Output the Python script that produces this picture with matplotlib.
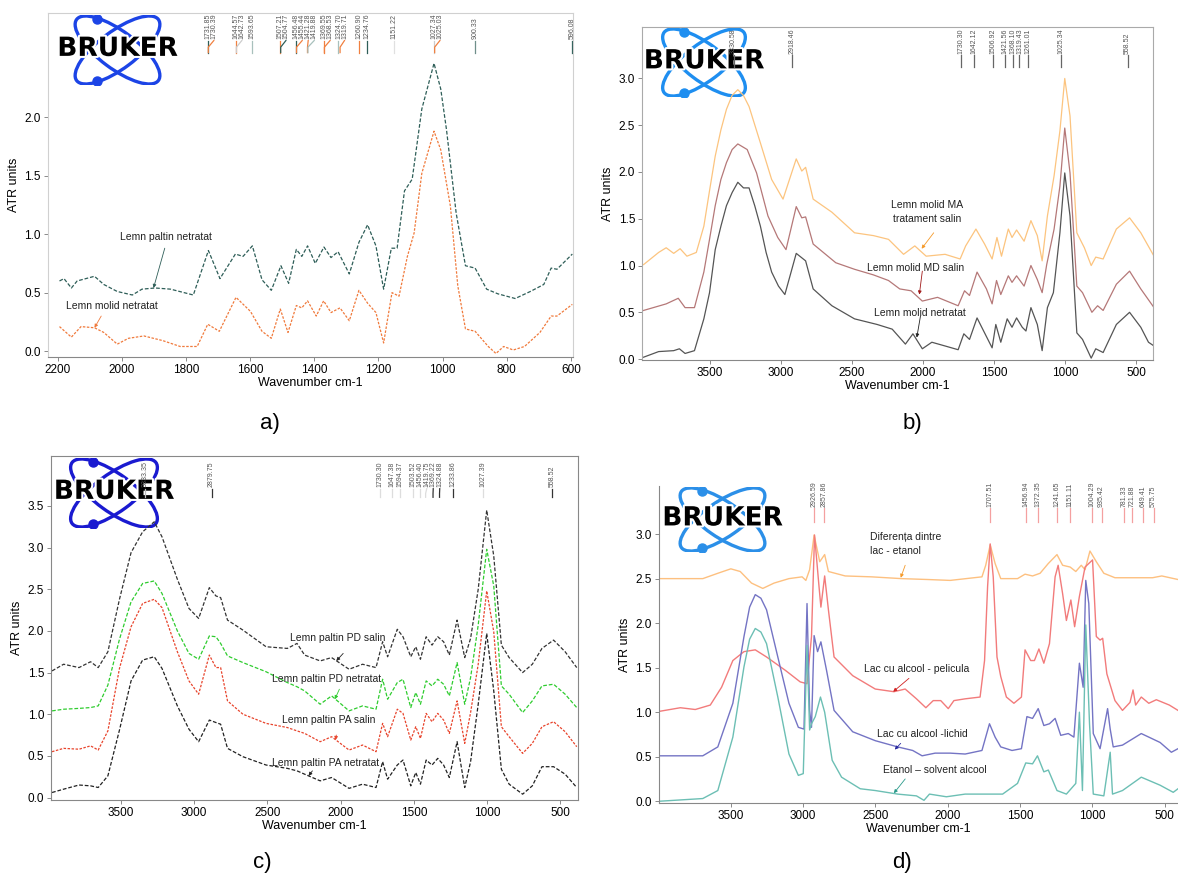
import numpy as np
import matplotlib.pyplot as plt
import matplotlib.patheffects as pe
from matplotlib.patches import Ellipse

plt.rcParams['font.family'] = ['Liberation Sans', 'DejaVu Sans']

# ---------------- a) ----------------
A_WN_PALTIN = [2194, 2180, 2157, 2139, 2085, 2056, 2014, 1967, 1937, 1896, 1848, 1777, 1730,
               1694, 1646, 1622, 1593, 1563, 1534, 1504, 1480, 1456, 1439, 1421, 1397, 1370,
               1348, 1326, 1291, 1261, 1234, 1208, 1184, 1160, 1142, 1119, 1095, 1065, 1027,
               1006, 988, 958, 929, 899, 863, 828, 774, 727, 685, 662, 644, 596]
A_PALTIN = [0.60, 0.62, 0.54, 0.60, 0.64, 0.57, 0.51, 0.48, 0.53, 0.54, 0.53, 0.48, 0.86,
            0.62, 0.83, 0.81, 0.90, 0.61, 0.52, 0.73, 0.58, 0.87, 0.81, 0.90, 0.75, 0.89,
            0.80, 0.85, 0.66, 0.93, 1.08, 0.90, 0.53, 0.88, 0.88, 1.37, 1.47, 2.07, 2.46,
            2.24, 1.89, 1.18, 0.73, 0.71, 0.53, 0.49, 0.45, 0.51, 0.57, 0.71, 0.70, 0.83]
A_WN_MOLID = [2194, 2157, 2127, 2085, 2056, 2014, 1979, 1931, 1872, 1818, 1765, 1732, 1696,
              1644, 1599, 1563, 1534, 1506, 1482, 1456, 1439, 1421, 1394, 1371, 1348, 1320,
              1291, 1261, 1234, 1208, 1184, 1158, 1136, 1110, 1089, 1065, 1027, 1006, 976,
              953, 929, 899, 858, 834, 810, 780, 745, 697, 662, 644, 596]
A_MOLID = [0.21, 0.12, 0.21, 0.20, 0.16, 0.06, 0.11, 0.13, 0.09, 0.04, 0.04, 0.23, 0.17,
           0.46, 0.34, 0.17, 0.11, 0.36, 0.16, 0.39, 0.37, 0.43, 0.30, 0.43, 0.33, 0.37,
           0.26, 0.52, 0.41, 0.33, 0.07, 0.50, 0.47, 0.81, 1.01, 1.52, 1.88, 1.72, 1.24,
           0.56, 0.19, 0.17, 0.04, -0.02, 0.04, 0.01, 0.04, 0.16, 0.30, 0.30, 0.40]
A_PEAKS = ['1731.85', '1730.39', '1644.57', '1642.73', '1593.65', '1507.21', '1504.77',
           '1456.48', '1455.44', '1421.28', '1419.88', '1369.55', '1368.53', '1324.70',
           '1319.71', '1260.90', '1234.76', '1151.22', '1027.34', '1025.03', '900.33', '596.08']
A_PEAK_COLORS = ['#2e5e58', '#f08040', '#f08040', '#cccccc', '#a8c0bc', '#f08040', '#2e5e58',
                 '#2e5e58', '#f08040', '#f08040', '#a8c0bc', '#f08040', '#f08040', '#a8c0bc',
                 '#f08040', '#f08040', '#2e5e58', '#e0e0e0', '#cccccc', '#f08040', '#6f8f8a',
                 '#2e5e58']

# ---------------- b) ----------------
B_WN_NETRATAT = [3964, 3858, 3752, 3712, 3672, 3606, 3540, 3500, 3460, 3420, 3381, 3341, 3301,
                 3261, 3222, 3182, 3142, 3102, 3063, 3015, 2970, 2890, 2824, 2771, 2639, 2480,
                 2321, 2215, 2122, 2069, 2003, 1936, 1843, 1751, 1711, 1671, 1618, 1565, 1512,
                 1486, 1451, 1406, 1372, 1340, 1300, 1274, 1239, 1194, 1160, 1123, 1081, 1035,
                 1001, 964, 916, 876, 815, 783, 731, 638, 545, 466, 412, 373]
B_NETRATAT = [0.02, 0.08, 0.09, 0.11, 0.06, 0.09, 0.43, 0.71, 1.17, 1.42, 1.64, 1.78, 1.89,
              1.83, 1.83, 1.64, 1.42, 1.14, 0.93, 0.78, 0.69, 1.13, 1.05, 0.75, 0.57, 0.43,
              0.37, 0.32, 0.16, 0.27, 0.11, 0.18, 0.14, 0.10, 0.27, 0.21, 0.44, 0.28, 0.12,
              0.37, 0.18, 0.43, 0.34, 0.44, 0.34, 0.30, 0.55, 0.37, 0.09, 0.55, 0.71, 1.35,
              1.99, 1.53, 0.28, 0.21, 0.01, 0.11, 0.07, 0.37, 0.50, 0.34, 0.18, 0.14]
B_WN_MD = [3964, 3805, 3720, 3672, 3606, 3540, 3500, 3460, 3420, 3381, 3341, 3301, 3235, 3169,
           3089, 3020, 2962, 2890, 2851, 2824, 2771, 2612, 2480, 2347, 2241, 2162, 2082, 2003,
           1896, 1751, 1706, 1671, 1618, 1552, 1512, 1481, 1451, 1398, 1372, 1340, 1287, 1239,
           1194, 1160, 1128, 1076, 1035, 1001, 964, 916, 876, 810, 770, 731, 638, 545, 466, 373]
B_MD = [0.52, 0.59, 0.65, 0.55, 0.55, 0.93, 1.28, 1.64, 1.92, 2.10, 2.24, 2.30, 2.24, 1.99,
        1.53, 1.30, 1.17, 1.63, 1.51, 1.52, 1.23, 1.03, 0.96, 0.90, 0.84, 0.75, 0.73, 0.62,
        0.66, 0.57, 0.73, 0.68, 0.93, 0.75, 0.59, 0.84, 0.69, 0.89, 0.82, 0.89, 0.78, 1.00,
        0.85, 0.71, 1.01, 1.39, 1.85, 2.47, 1.99, 0.78, 0.71, 0.50, 0.57, 0.52, 0.80, 0.94,
        0.75, 0.55]
B_WN_MA = [3964, 3858, 3805, 3752, 3707, 3659, 3593, 3540, 3500, 3460, 3420, 3381, 3341, 3301,
           3262, 3222, 3142, 3063, 2983, 2890, 2851, 2824, 2771, 2639, 2480, 2347, 2241, 2135,
           2056, 1976, 1843, 1737, 1698, 1626, 1565, 1512, 1478, 1446, 1398, 1372, 1340, 1287,
           1239, 1194, 1160, 1123, 1076, 1035, 1001, 964, 916, 863, 815, 783, 731, 638, 545,
           466, 373]
B_MA = [1.01, 1.14, 1.19, 1.13, 1.18, 1.10, 1.14, 1.42, 1.80, 2.17, 2.45, 2.67, 2.82, 2.88,
        2.82, 2.70, 2.31, 1.92, 1.71, 2.14, 2.01, 2.05, 1.71, 1.57, 1.35, 1.32, 1.28, 1.12,
        1.21, 1.10, 1.12, 1.07, 1.21, 1.39, 1.23, 1.07, 1.30, 1.10, 1.39, 1.30, 1.38, 1.26,
        1.48, 1.32, 1.05, 1.53, 1.96, 2.44, 3.00, 2.60, 1.35, 1.19, 1.00, 1.09, 1.07, 1.39,
        1.51, 1.35, 1.10]
B_PEAKS = ['3330.58', '2918.46', '1730.30', '1642.12', '1506.92', '1421.56', '1368.10',
           '1319.43', '1261.01', '1025.34', '558.52']

# ---------------- c) ----------------
C_WN = [3968, 3889, 3784, 3705, 3653, 3587, 3508, 3429, 3350, 3271, 3218, 3113, 3034, 2968,
        2895, 2850, 2818, 2771, 2666, 2508, 2363, 2297, 2245, 2139, 2061, 1942, 1850, 1758,
        1713, 1679, 1613, 1574, 1521, 1487, 1455, 1416, 1376, 1337, 1297, 1258, 1205, 1153,
        1113, 1061, 1003, 955, 903, 850, 758, 692, 626, 547, 468, 389]
C_PD_SALIN = [1.52, 1.60, 1.56, 1.63, 1.56, 1.75, 2.38, 2.94, 3.19, 3.31, 3.13, 2.62, 2.27,
              2.15, 2.52, 2.42, 2.40, 2.13, 2.01, 1.81, 1.79, 1.85, 1.71, 1.64, 1.68, 1.54,
              1.60, 1.56, 1.87, 1.69, 2.02, 1.93, 1.69, 1.81, 1.66, 1.93, 1.83, 1.93, 1.87,
              1.71, 2.13, 1.68, 1.91, 2.50, 3.45, 2.90, 1.83, 1.68, 1.50, 1.60, 1.79, 1.89,
              1.75, 1.56]
C_PD_NETRATAT = [1.04, 1.06, 1.07, 1.08, 1.10, 1.35, 1.90, 2.35, 2.57, 2.60, 2.45, 2.00, 1.73,
                 1.66, 1.94, 1.93, 1.85, 1.70, 1.62, 1.51, 1.38, 1.33, 1.28, 1.12, 1.22, 1.04,
                 1.10, 1.06, 1.42, 1.18, 1.38, 1.42, 1.08, 1.26, 1.12, 1.40, 1.34, 1.42, 1.36,
                 1.22, 1.62, 1.12, 1.44, 2.07, 2.98, 2.54, 1.34, 1.24, 1.02, 1.16, 1.34, 1.36,
                 1.24, 1.08]
C_PA_SALIN = [0.55, 0.59, 0.58, 0.62, 0.57, 0.80, 1.55, 2.05, 2.33, 2.38, 2.28, 1.75, 1.40,
              1.24, 1.71, 1.56, 1.56, 1.16, 1.00, 0.89, 0.84, 0.80, 0.77, 0.67, 0.73, 0.57,
              0.63, 0.55, 0.89, 0.73, 1.06, 1.01, 0.69, 0.85, 0.71, 1.01, 0.91, 1.01, 0.93,
              0.77, 1.16, 0.65, 1.02, 1.60, 2.48, 1.99, 0.85, 0.73, 0.53, 0.65, 0.85, 0.91,
              0.79, 0.61]
C_PA_NETRATAT = [0.06, 0.10, 0.15, 0.14, 0.12, 0.26, 0.81, 1.40, 1.65, 1.69, 1.55, 1.10, 0.82,
                 0.67, 0.93, 0.90, 0.88, 0.59, 0.49, 0.39, 0.35, 0.32, 0.28, 0.20, 0.24, 0.11,
                 0.16, 0.12, 0.43, 0.22, 0.39, 0.45, 0.14, 0.30, 0.16, 0.45, 0.39, 0.47, 0.39,
                 0.24, 0.67, 0.12, 0.43, 1.12, 1.97, 1.28, 0.34, 0.16, 0.04, 0.14, 0.37, 0.37,
                 0.28, 0.12]
C_PEAKS = ['3333.35', '2879.75', '1730.30', '1647.38', '1594.37', '1503.52', '1456.40',
           '1419.75', '1369.22', '1324.88', '1233.86', '1027.39', '558.52']
C_PEAK_COLORS = ['#bbbbbb', '#333333', '#dddddd', '#dddddd', '#dddddd', '#dddddd', '#dddddd',
                 '#dddddd', '#333333', '#333333', '#333333', '#dddddd', '#333333']

# ---------------- d) ----------------
D_WN_DIF = [3992, 3694, 3590, 3500, 3435, 3357, 3279, 3201, 3098, 3007, 2981, 2955, 2924, 2885,
            2851, 2825, 2709, 2527, 2320, 2138, 1983, 1763, 1737, 1706, 1672, 1633, 1517, 1465,
            1413, 1361, 1304, 1244, 1205, 1153, 1114, 1076, 1050, 1016, 972, 920, 843, 739, 583,
            519, 407]
D_DIF = [2.50, 2.50, 2.56, 2.61, 2.58, 2.45, 2.39, 2.45, 2.50, 2.52, 2.48, 2.60, 2.99, 2.69,
         2.77, 2.58, 2.53, 2.52, 2.50, 2.49, 2.48, 2.52, 2.65, 2.88, 2.67, 2.50, 2.50, 2.55,
         2.53, 2.56, 2.67, 2.77, 2.65, 2.63, 2.58, 2.65, 2.60, 2.81, 2.69, 2.56, 2.51, 2.51,
         2.51, 2.53, 2.49]
D_WN_PELICULA = [3992, 3849, 3746, 3642, 3564, 3486, 3409, 3331, 3253, 3123, 3020, 2973, 2942,
                 2921, 2890, 2877, 2851, 2825, 2786, 2657, 2501, 2372, 2294, 2216, 2151, 2100,
                 2048, 1996, 1957, 1879, 1776, 1745, 1724, 1706, 1685, 1659, 1633, 1594, 1542,
                 1490, 1465, 1426, 1400, 1369, 1335, 1296, 1257, 1236, 1205, 1179, 1148, 1122,
                 1089, 1050, 998, 972, 946, 928, 899, 843, 791, 739, 718, 700, 661, 609, 557,
                 467, 407]
D_PELICULA = [1.01, 1.05, 1.03, 1.08, 1.28, 1.58, 1.68, 1.70, 1.62, 1.47, 1.34, 1.32, 1.85,
              2.99, 2.41, 2.18, 2.53, 2.15, 1.62, 1.41, 1.26, 1.23, 1.26, 1.15, 1.05, 1.13,
              1.13, 1.04, 1.13, 1.15, 1.17, 1.58, 2.41, 2.89, 2.52, 1.62, 1.40, 1.17, 1.10,
              1.17, 1.70, 1.58, 1.58, 1.71, 1.55, 1.77, 2.52, 2.65, 2.33, 2.03, 2.26, 1.96,
              2.30, 2.63, 2.71, 1.85, 1.81, 1.83, 1.43, 1.13, 1.02, 1.11, 1.25, 1.08, 1.17,
              1.10, 1.14, 1.08, 1.02]
D_WN_LICHID = [3992, 3694, 3590, 3486, 3409, 3370, 3331, 3292, 3253, 3175, 3098, 3033, 2994,
               2973, 2955, 2942, 2924, 2900, 2877, 2838, 2786, 2657, 2501, 2346, 2242, 2177,
               2087, 1983, 1879, 1763, 1711, 1672, 1633, 1555, 1490, 1452, 1413, 1374, 1335,
               1296, 1257, 1218, 1166, 1127, 1089, 1063, 1045, 1024, 993, 946, 894, 876, 855,
               791, 661, 531, 453, 407]
D_LICHID = [0.51, 0.51, 0.61, 1.10, 1.85, 2.18, 2.32, 2.28, 2.15, 1.62, 1.10, 0.83, 0.81, 2.22,
            1.02, 0.83, 1.86, 1.68, 1.79, 1.47, 1.02, 0.78, 0.68, 0.61, 0.57, 0.51, 0.54, 0.54,
            0.53, 0.57, 0.87, 0.72, 0.61, 0.57, 0.59, 0.95, 0.93, 1.04, 0.85, 0.87, 0.93, 0.74,
            0.76, 0.72, 1.55, 1.28, 2.48, 2.22, 0.76, 0.59, 1.04, 0.81, 0.61, 0.63, 0.76, 0.66,
            0.55, 0.59]
D_WN_ETANOL = [3992, 3694, 3590, 3486, 3409, 3370, 3331, 3292, 3253, 3175, 3098, 3033, 2999,
               2973, 2955, 2942, 2916, 2880, 2851, 2799, 2734, 2605, 2501, 2346, 2216, 2164,
               2126, 2009, 1879, 1620, 1517, 1460, 1413, 1379, 1335, 1304, 1244, 1179, 1114,
               1089, 1068, 1045, 1019, 993, 920, 876, 860, 791, 661, 531, 440, 407]
D_ETANOL = [0.00, 0.03, 0.12, 0.72, 1.51, 1.82, 1.94, 1.90, 1.77, 1.17, 0.53, 0.29, 0.31, 1.75,
            0.80, 0.87, 0.95, 1.17, 1.00, 0.46, 0.27, 0.14, 0.12, 0.08, 0.06, 0.01, 0.08, 0.05,
            0.08, 0.08, 0.20, 0.43, 0.42, 0.51, 0.33, 0.35, 0.12, 0.08, 0.20, 1.00, 0.12, 1.98,
            0.87, 0.08, 0.06, 0.55, 0.08, 0.12, 0.27, 0.18, 0.10, 0.14]
D_PEAKS = ['2926.59', '2857.86', '1707.51', '1456.94', '1372.35', '1241.65', '1151.11',
           '1004.29', '935.42', '781.33', '721.88', '649.41', '575.75']

TICK_GRAY = '#777777'


def style_axes(ax, xlim, ylim, yticks, xticks, frame_color, hide=()):
    ax.set_xlim(*xlim)
    ax.set_ylim(*ylim)
    ax.set_yticks(yticks)
    ax.set_yticklabels(['%.1f' % t for t in yticks])
    ax.set_xticks(xticks)
    for side, sp in ax.spines.items():
        sp.set_color(frame_color)
        sp.set_linewidth(0.8)
        if side in hide:
            sp.set_visible(False)
    ax.spines['bottom'].set_color('#888888')
    ax.tick_params(direction='out', length=3, width=0.6, color=TICK_GRAY,
                   labelsize=8.5, pad=2, top=False, right=False)
    ax.set_xlabel('Wavenumber cm-1', fontsize=9, labelpad=1)
    ax.set_ylabel('ATR units', fontsize=9, labelpad=3)
    ax.set_facecolor('none')


def peak_labels(ax, peaks, colors, line_y, text_y, gap=6.5):
    # spread crowded labels apart, keep the tick foot at the real wavenumber
    tr = ax.get_xaxis_transform()
    wn = [float(p) for p in peaks]
    pix = [ax.transData.transform((w, 0))[0] for w in wn]
    order = np.argsort(pix)
    placed = {}
    last = -1e9
    for i in order:
        p = max(pix[i], last + gap)
        placed[i] = p
        last = p
    inv = ax.transData.inverted()
    y0, y1 = line_y
    ym = y0 + 0.45 * (y1 - y0)
    for i, (lab, col) in enumerate(zip(peaks, colors)):
        w = wn[i]
        wl = inv.transform((placed[i], 0))[0]
        ax.plot([w, w, wl], [y0, ym, y1], color=col, lw=0.9, transform=tr, clip_on=False)
        ax.text(wl, text_y, lab, rotation=90, fontsize=5, color='#555555', ha='center',
                va='bottom', transform=tr, clip_on=False)


def label_curve(ax, text, xy_text, tail, tip, color, ha='center'):
    ax.text(xy_text[0], xy_text[1], text, fontsize=7.5, color='#222222', ha=ha,
            va='center', linespacing=1.5)
    ax.annotate('', xy=tip, xytext=tail,
                arrowprops=dict(arrowstyle='-|>', color=color, lw=0.6,
                                mutation_scale=5, shrinkA=0, shrinkB=0))


def bruker_logo(fig, rect, color):
    lax = fig.add_axes(rect)
    lax.set_xlim(-1.1, 1.1)
    lax.set_ylim(-0.62, 0.62)
    lax.axis('off')
    for ang in (37, -37):
        lax.add_patch(Ellipse((0, 0), 1.8, 0.66, angle=ang, fill=False,
                              edgecolor=color, lw=2.4))
    lax.plot([-0.36, -0.36], [0.55, -0.55], 'o', color=color, ms=6.5)
    lax.text(0, 0.02, 'BRUKER', fontsize=19, fontweight='bold', family='DejaVu Sans',
             ha='center', va='center', color='black',
             path_effects=[pe.withStroke(linewidth=3, foreground='white')])


fig = plt.figure(figsize=(11.78, 8.8), dpi=100)

# logos first, so peak labels and curves can sit over them
bruker_logo(fig, [55 / 1178, 1 - 85 / 880, 125 / 1178, 70 / 880], '#1c44e6')
bruker_logo(fig, [643 / 1178, 1 - 97 / 880, 122 / 1178, 69 / 880], '#1e8ef0')
bruker_logo(fig, [50 / 1178, 1 - 528 / 880, 128 / 1178, 70 / 880], '#1a1ad0')
bruker_logo(fig, [660 / 1178, 1 - 552 / 880, 125 / 1178, 65 / 880], '#2b8fe8')

# ---- a)
ax_a = fig.add_axes([0.0407, 0.5943, 0.4457, 0.3909])
ax_a.plot(A_WN_PALTIN, A_PALTIN, color='#2e5e58', lw=0.9, ls=(0, (3, 1.5)))
ax_a.plot(A_WN_MOLID, A_MOLID, color='#f07a3c', lw=0.9, ls=(0, (2, 1.2)))
style_axes(ax_a, (2230, 594), (-0.05, 2.89), [0, 0.5, 1.0, 1.5, 2.0],
           [2200, 2000, 1800, 1600, 1400, 1200, 1000, 800, 600], '#d0d0d0')
peak_labels(ax_a, A_PEAKS, A_PEAK_COLORS, (0.885, 0.92), 0.925, gap=6)
label_curve(ax_a, 'Lemn paltin netratat', (1863, 0.98), (1866, 0.88), (1901, 0.54), '#2e5e58')
label_curve(ax_a, 'Lemn molid netratat', (2032, 0.39), (2064, 0.30), (2085, 0.20), '#f07a3c')

# ---- b)
ax_b = fig.add_axes([0.545, 0.5909, 0.4338, 0.3784])
ax_b.plot(B_WN_MA, B_MA, color='#fcc47f', lw=0.9)
ax_b.plot(B_WN_MD, B_MD, color='#b57878', lw=0.9)
ax_b.plot(B_WN_NETRATAT, B_NETRATAT, color='#555555', lw=0.9)
style_axes(ax_b, (3975, 380), (-0.01, 3.55), [0, 0.5, 1.0, 1.5, 2.0, 2.5, 3.0],
           [3500, 3000, 2500, 2000, 1500, 1000, 500], '#aaaaaa')
peak_labels(ax_b, B_PEAKS, ['#666666'] * len(B_PEAKS), (0.88, 0.915), 0.92)
label_curve(ax_b, 'Lemn molid MA\ntratament salin', (1968, 1.57), (1923, 1.35), (2008, 1.18), '#f59a2a')
label_curve(ax_b, 'Lemn molid MD salin', (2050, 0.97), (2003, 0.94), (2024, 0.69), '#a01818')
label_curve(ax_b, 'Lemn molid netratat', (2021, 0.49), (2016, 0.46), (2042, 0.23), '#222222')

# ---- c)
ax_c = fig.add_axes([0.0433, 0.0909, 0.4474, 0.3909])
ax_c.plot(C_WN, C_PD_SALIN, color='#333333', lw=0.9, ls=(0, (3, 1.5)))
ax_c.plot(C_WN, C_PD_NETRATAT, color='#2fcc2f', lw=0.9, ls=(0, (3, 1.5)))
ax_c.plot(C_WN, C_PA_SALIN, color='#e8442c', lw=0.9, ls=(0, (2, 1.2)))
ax_c.plot(C_WN, C_PA_NETRATAT, color='#222222', lw=0.9, ls=(0, (3, 1.5)))
style_axes(ax_c, (3975, 380), (-0.03, 4.1), [0, 0.5, 1.0, 1.5, 2.0, 2.5, 3.0, 3.5],
           [3500, 3000, 2500, 2000, 1500, 1000, 500], '#888888')
peak_labels(ax_c, C_PEAKS, C_PEAK_COLORS, (0.88, 0.905), 0.91)
label_curve(ax_c, 'Lemn paltin PD salin', (2021, 1.92), (1982, 1.73), (2029, 1.64), '#222222')
label_curve(ax_c, 'Lemn paltin PD netratat', (2092, 1.42), (2008, 1.30), (2039, 1.18), '#2fcc2f')
label_curve(ax_c, 'Lemn paltin PA salin', (2079, 0.93), (2029, 0.75), (2034, 0.69), '#e8442c')
label_curve(ax_c, 'Lemn paltin PA netratat', (2105, 0.42), (2192, 0.32), (2218, 0.26), '#222222')

# ---- d)
ax_d = fig.add_axes([0.5594, 0.0875, 0.4406, 0.3602])
ax_d.plot(D_WN_DIF, D_DIF, color='#fdc080', lw=1.0)
ax_d.plot(D_WN_PELICULA, D_PELICULA, color='#f27b7b', lw=1.0)
ax_d.plot(D_WN_LICHID, D_LICHID, color='#7474c4', lw=1.0)
ax_d.plot(D_WN_ETANOL, D_ETANOL, color='#6cbfb4', lw=1.0)
style_axes(ax_d, (3997, 407), (-0.02, 3.54), [0, 0.5, 1.0, 1.5, 2.0, 2.5, 3.0],
           [3500, 3000, 2500, 2000, 1500, 1000, 500], '#888888', hide=('top', 'right'))
peak_labels(ax_d, D_PEAKS, ['#f4a0a0'] * len(D_PEAKS), (0.886, 0.93), 0.935)
label_curve(ax_d, 'Diferența dintre\nlac - etanol', (2540, 2.89), (2294, 2.65), (2325, 2.51),
            '#f59a2a', ha='left')
label_curve(ax_d, 'Lac cu alcool - pelicula', (2216, 1.48), (2268, 1.38), (2377, 1.23), '#d02020')
label_curve(ax_d, 'Lac cu alcool -lichid', (2172, 0.75), (2325, 0.65), (2366, 0.58), '#2a2aa0')
label_curve(ax_d, 'Etanol – solvent alcool', (2092, 0.35), (2294, 0.25), (2372, 0.09), '#2a9a8a')

# panel letters
for s, x, y in [('a)', 270, 423), ('b)', 912, 423), ('c)', 262, 862), ('d)', 902, 862)]:
    fig.text(x / 1178, 1 - y / 880, s, fontsize=16, ha='center', va='center')

fig.savefig('out.png', dpi=100)
